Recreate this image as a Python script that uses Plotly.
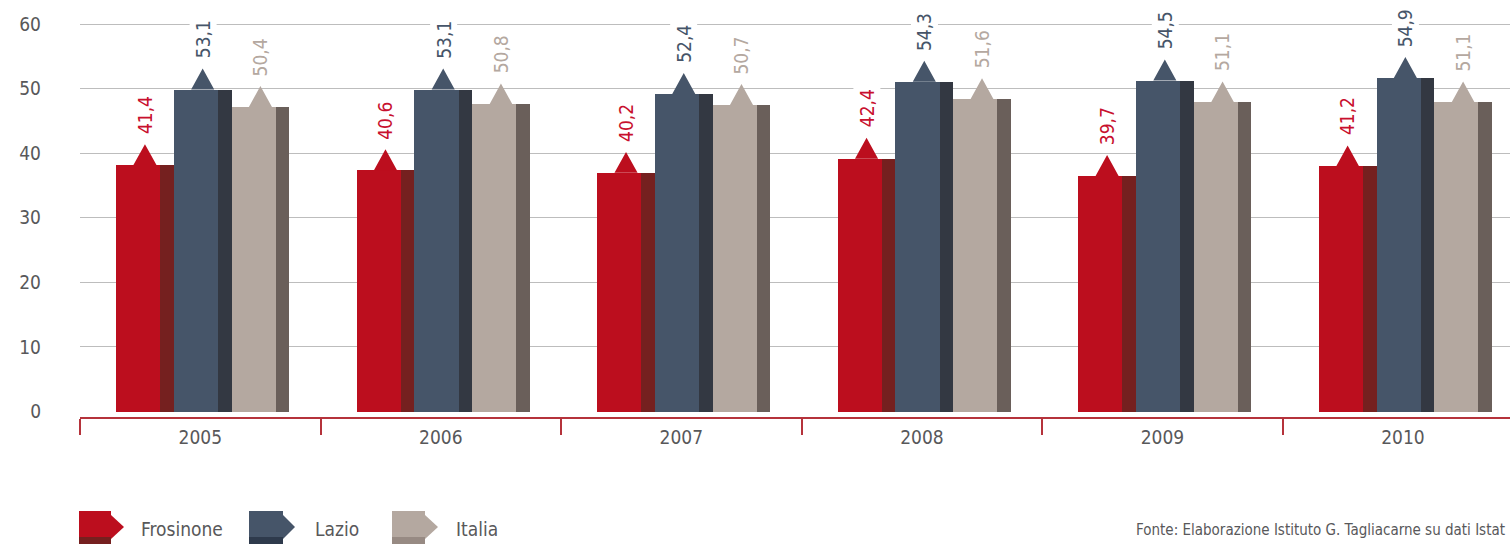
import numpy as np
import plotly.graph_objects as go

# Values
years = ["2005", "2006", "2007", "2008", "2009", "2010"]
frosinone = [41.4, 40.6, 40.2, 42.4, 39.7, 41.2]
lazio = [53.1, 53.1, 52.4, 54.3, 54.5, 54.9]
italia = [50.4, 50.8, 50.7, 51.6, 51.1, 51.1]
series_names = ["Frosinone", "Lazio", "Italia"]
y_ticks = [0, 10, 20, 30, 40, 50, 60]
source_text = "Fonte: Elaborazione Istituto G. Tagliacarne su dati Istat"

# Styles
FONT = "DejaVu Sans Condensed, Liberation Sans Narrow, sans-serif"
TEXT_GREY = "#58585a"
AXIS_RED = "#b5333b"
main_colors = ["#bc0e1e", "#465569", "#b4a8a0"]
dark_colors = ["#75201f", "#333842", "#6a5f5a"]
legend_dark = ["#75201f", "#2e3a4c", "#978a83"]
label_colors = ["#c8102e", "#465569", "#b4a8a0"]

W, H = 1510, 544
M_L, M_R, M_T, M_B = 80, 0, 20, 127
X_RANGE = [-0.5, 5.445]
Y_RANGE = [-0.85, 60.62]

SERIES_W = 0.24      # width of one series block (main + dark strip)
MAIN_W = 0.184       # width of the main face
GROUP_LEFT = -0.35   # left edge of the first block relative to category centre
TRI_H = 3.25         # height of the arrow tip (data units)
TRI_HALF = 0.048     # half width of the arrow tip

idx = np.arange(len(years))
fig = go.Figure()

for k, (name, vals) in enumerate(zip(series_names, [frosinone, lazio, italia])):
    vals = np.array(vals)
    left = idx + GROUP_LEFT + k * SERIES_W
    body = vals - TRI_H
    # main face
    fig.add_trace(go.Bar(
        x=left + MAIN_W / 2, y=body, width=MAIN_W,
        marker=dict(color=main_colors[k], line=dict(width=0)),
        name=name, showlegend=False, hoverinfo="skip"))
    # darker side strip
    fig.add_trace(go.Bar(
        x=left + (MAIN_W + SERIES_W) / 2, y=body, width=SERIES_W - MAIN_W,
        marker=dict(color=dark_colors[k], line=dict(width=0)),
        showlegend=False, hoverinfo="skip"))
    # arrow tip, peak at the value
    cx = left + SERIES_W / 2
    tx, ty = [], []
    for c, v in zip(cx, vals):
        tx += [c - TRI_HALF, c, c + TRI_HALF, c - TRI_HALF, None]
        ty += [v - TRI_H, v, v - TRI_H, v - TRI_H, None]
    fig.add_trace(go.Scatter(
        x=tx, y=ty, mode="lines", fill="toself", fillcolor=main_colors[k],
        line=dict(width=0, color=main_colors[k]), showlegend=False, hoverinfo="skip"))
    # value labels
    for c, v in zip(cx, vals):
        fig.add_annotation(
            x=c, y=v, xref="x", yref="y", text=f"{v:.1f}".replace(".", ","),
            textangle=-90, showarrow=False, yanchor="bottom", xanchor="center",
            yshift=7, bgcolor="white", borderpad=2,
            font=dict(family=FONT, size=19, color=label_colors[k]))

fig.update_layout(
    barmode="overlay", bargap=0,
    width=W, height=H,
    margin=dict(l=M_L, r=M_R, t=M_T, b=M_B),
    paper_bgcolor="white", plot_bgcolor="white",
    font=dict(family=FONT, size=19, color=TEXT_GREY),
    showlegend=False,
    xaxis=dict(
        range=X_RANGE, tickmode="array", tickvals=list(idx), ticktext=years,
        ticks="outside", ticklen=2, tickcolor="rgba(0,0,0,0)",
        showgrid=False, zeroline=False,
        showline=True, linecolor=AXIS_RED, linewidth=2,
        minor=dict(tickmode="array", tickvals=list(idx - 0.5) + [5.5],
                   ticks="outside", ticklen=16, tickcolor=AXIS_RED, tickwidth=2,
                   showgrid=False),
        tickfont=dict(family=FONT, size=19, color=TEXT_GREY),
        fixedrange=True),
    yaxis=dict(
        range=Y_RANGE, tickmode="array", tickvals=y_ticks,
        showgrid=False, zeroline=False, showline=False,
        ticks="", ticklabelstandoff=38,
        minor=dict(tickmode="array", tickvals=y_ticks[1:], showgrid=True,
                   gridcolor="#bdbdbd", gridwidth=1),
        tickfont=dict(family=FONT, size=19, color=TEXT_GREY),
        fixedrange=True),
)

# pixel -> paper coordinates for the hand-built legend
PW = W - M_L - M_R
PH = H - M_T - M_B


def px(xp):
    return (xp - M_L) / PW


def py(yp):
    return (H - M_B - yp) / PH


legend_items = [(79, 111, 124, 139), (249, 283, 295, 313), (392, 425, 438, 454)]
for k, (x0, x1, xt, xl) in enumerate(legend_items):
    fig.add_shape(type="rect", xref="paper", yref="paper",
                  x0=px(x0), x1=px(x1), y0=py(537), y1=py(511),
                  fillcolor=main_colors[k], line=dict(width=0), layer="above")
    fig.add_shape(type="rect", xref="paper", yref="paper",
                  x0=px(x0), x1=px(x1), y0=py(545), y1=py(537),
                  fillcolor=legend_dark[k], line=dict(width=0), layer="above")
    fig.add_shape(type="path", xref="paper", yref="paper",
                  path=f"M {px(x1)},{py(515)} L {px(xt)},{py(527)} L {px(x1)},{py(539)} Z",
                  fillcolor=main_colors[k], line=dict(width=0), layer="above")
    fig.add_annotation(x=px(xl), y=py(529), xref="paper", yref="paper",
                       text=series_names[k], showarrow=False,
                       xanchor="left", yanchor="middle",
                       font=dict(family=FONT, size=19, color=TEXT_GREY))

fig.add_annotation(x=px(1507), y=py(530), xref="paper", yref="paper",
                   text=source_text, showarrow=False, xanchor="right", yanchor="middle",
                   font=dict(family=FONT, size=15, color=TEXT_GREY))

fig.write_html("out.html")
